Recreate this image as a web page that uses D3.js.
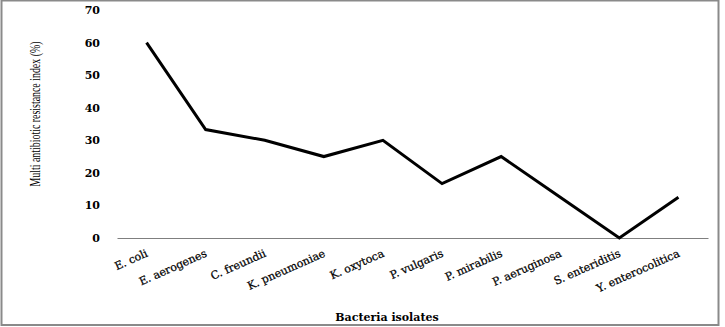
<!DOCTYPE html>
<html>
<head>
<meta charset="utf-8">
<script src="https://cdn.jsdelivr.net/npm/d3@7"></script>
<style>
  body { margin: 0; background: #fff; }
</style>
</head>
<body>
<svg id="chart" width="725" height="327"></svg>
<script>
const isolates = ['E. coli', 'E. aerogenes', 'C. freundii', 'K. pneumoniae', 'K. oxytoca',
  'P. vulgaris', 'P. mirabilis', 'P. aeruginosa', 'S. enteriditis', 'Y. enterocolitica'];
const marIndex = [60, 33.3, 30, 25, 30, 16.7, 25, 12.5, 0, 12.5];
const yTicks = [0, 10, 20, 30, 40, 50, 60, 70];

const svg = d3.select('#chart');
const plotL = 117, plotR = 708, plotT = 10, plotB = 238;

// frame
svg.append('rect')
  .attr('x', 1.5).attr('y', 0.5)
  .attr('width', 717).attr('height', 324.5)
  .attr('fill', 'none').attr('stroke', '#8a8a8a').attr('stroke-width', 2);

const x = d3.scaleBand().domain(isolates).range([plotL, plotR]);
const y = d3.scaleLinear().domain([0, 70]).range([plotB, plotT]);

// y axis labels only
const yAxis = svg.append('g')
  .attr('transform', `translate(${plotL},0)`)
  .call(d3.axisLeft(y).tickValues(yTicks).tickSize(0).tickPadding(17));
yAxis.select('.domain').remove();
yAxis.selectAll('text')
  .attr('font-family', 'DejaVu Serif').attr('font-weight', 'bold')
  .attr('font-size', 11).attr('fill', '#000');

// x axis
const xAxis = svg.append('g')
  .attr('transform', `translate(0,${plotB})`)
  .call(d3.axisBottom(x).tickSize(0).tickPadding(0));
xAxis.select('.domain').attr('stroke', '#7f7f7f').attr('stroke-width', 1);
xAxis.selectAll('text')
  .attr('font-family', 'DejaVu Serif').attr('font-size', 11).attr('fill', '#000')
  .attr('stroke', '#000').attr('stroke-width', 0.25)
  .attr('text-anchor', 'end')
  .attr('dy', null)
  .attr('transform', 'translate(2,18) rotate(-24)');

// line
const line = d3.line()
  .x((d, i) => x(isolates[i]) + x.bandwidth() / 2)
  .y(d => y(d));
svg.append('path')
  .datum(marIndex)
  .attr('d', line)
  .attr('fill', 'none')
  .attr('stroke', '#000')
  .attr('stroke-width', 3)
  .attr('stroke-linejoin', 'miter');

// titles
svg.append('text')
  .attr('x', 387).attr('y', 321)
  .attr('text-anchor', 'middle')
  .attr('font-family', 'DejaVu Serif').attr('font-weight', 'bold').attr('font-size', 11)
  .text('Bacteria isolates');

svg.append('text')
  .attr('transform', 'translate(40,114) rotate(-90) scale(0.66,1)')
  .attr('text-anchor', 'middle')
  .attr('font-family', 'Liberation Serif').attr('font-size', 15)
  .text('Multi antibiotic resistance index  (%)');
</script>
</body>
</html>
